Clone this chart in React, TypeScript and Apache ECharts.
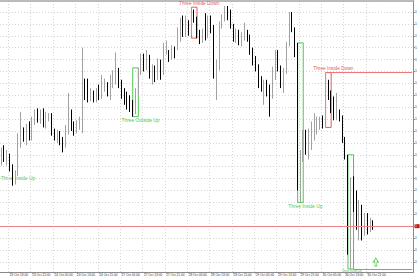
import React, { useEffect, useRef } from 'react';
import * as echarts from 'echarts';

// ---- data ----
const days = ['23 Oct', '24 Oct', '27 Oct', '28 Oct', '29 Oct', '30 Oct', '31 Oct'];
const firstHour = 10;
const slotCount = 148;

const open = [
  1.2646, 1.2652, 1.2647, 1.2649, 1.2639, 1.2630, 1.2636, 1.2658, 1.2668, 1.2664,
  1.2672, 1.2664, 1.2678, 1.2682, 1.2679, 1.2683, 1.2676, 1.2681, 1.2683, 1.2668,
  1.2665, 1.2667, 1.2662, 1.2658, 1.2669, 1.2684, 1.2673, 1.2671, 1.2674, 1.2672,
  1.2711, 1.2699, 1.2698, 1.2700, 1.2697, 1.2701, 1.2699, 1.2706, 1.2708, 1.2702,
  1.2709, 1.2713, 1.2720, 1.2709, 1.2700, 1.2698, 1.2699, 1.2693, 1.2686, 1.2703,
  1.2720, 1.2730, 1.2725, 1.2731, 1.2719, 1.2721, 1.2716, 1.2726, 1.2720, 1.2740,
  1.2733, 1.2733, 1.2736, 1.2741, 1.2748, 1.2756, 1.2751, 1.2758, 1.2752, 1.2770,
  1.2763, 1.2750, 1.2746, 1.2753, 1.2750, 1.2762, 1.2756, 1.2723, 1.2725, 1.2759,
  1.2765, 1.2772, 1.2768, 1.2758, 1.2748, 1.2752, 1.2745, 1.2749, 1.2752, 1.2748,
  1.2736, 1.2728, 1.2723, 1.2713, 1.2707, 1.2709, 1.2706, 1.2699, 1.2717, 1.2734,
  1.2721, 1.2713, 1.2720, 1.2742, 1.2767, 1.2755, 1.2734, 1.2639, 1.2647, 1.2662,
  1.2660, 1.2664, 1.2669, 1.2673, 1.2675, 1.2678, 1.2674, 1.2707, 1.2700, 1.2688,
  1.2683, 1.2684, 1.2681, 1.2662, 1.2648, 1.2570, 1.2629, 1.2616, 1.2599, 1.2604,
  1.2591, 1.2595, 1.2588, 1.2591,
];
const close = [
  1.2652, 1.2647, 1.2649, 1.2639, 1.2630, 1.2633, 1.2658, 1.2668, 1.2664, 1.2672,
  1.2664, 1.2678, 1.2682, 1.2679, 1.2683, 1.2676, 1.2681, 1.2683, 1.2668, 1.2665,
  1.2667, 1.2662, 1.2658, 1.2671, 1.2681, 1.2673, 1.2671, 1.2674, 1.2676, 1.2711,
  1.2699, 1.2698, 1.2700, 1.2697, 1.2701, 1.2699, 1.2706, 1.2708, 1.2702, 1.2709,
  1.2713, 1.2720, 1.2709, 1.2700, 1.2698, 1.2693, 1.2691, 1.2686, 1.2703, 1.2720,
  1.2730, 1.2725, 1.2733, 1.2719, 1.2721, 1.2714, 1.2726, 1.2720, 1.2740, 1.2742,
  1.2731, 1.2738, 1.2735, 1.2748, 1.2756, 1.2751, 1.2758, 1.2752, 1.2772, 1.2763,
  1.2750, 1.2746, 1.2753, 1.2750, 1.2762, 1.2755, 1.2723, 1.2725, 1.2759, 1.2765,
  1.2772, 1.2768, 1.2758, 1.2748, 1.2752, 1.2745, 1.2750, 1.2752, 1.2748, 1.2736,
  1.2728, 1.2723, 1.2713, 1.2707, 1.2709, 1.2702, 1.2699, 1.2720, 1.2734, 1.2723,
  1.2714, 1.2717, 1.2742, 1.2767, 1.2755, 1.2734, 1.2637, 1.2647, 1.2662, 1.2660,
  1.2664, 1.2669, 1.2673, 1.2675, 1.2678, 1.2674, 1.2707, 1.2700, 1.2688, 1.2683,
  1.2684, 1.2681, 1.2662, 1.2648, 1.2570, 1.2629, 1.2616, 1.2599, 1.2604, 1.2591,
  1.2595, 1.2588, 1.2591, 1.2590,
];
const high = [
  1.2656, 1.2658, 1.2654, 1.2651, 1.2642, 1.2637, 1.2668, 1.2686, 1.2673, 1.2676,
  1.2678, 1.2682, 1.2688, 1.2689, 1.2688, 1.2689, 1.2686, 1.2685, 1.2685, 1.2672,
  1.2671, 1.2670, 1.2665, 1.2675, 1.2702, 1.2688, 1.2678, 1.2679, 1.2682, 1.2740,
  1.2714, 1.2714, 1.2706, 1.2704, 1.2706, 1.2709, 1.2717, 1.2714, 1.2711, 1.2717,
  1.2721, 1.2736, 1.2723, 1.2713, 1.2706, 1.2703, 1.2700, 1.2696, 1.2706, 1.2723,
  1.2735, 1.2735, 1.2738, 1.2734, 1.2726, 1.2725, 1.2731, 1.2730, 1.2744, 1.2746,
  1.2738, 1.2742, 1.2741, 1.2757, 1.2765, 1.2767, 1.2767, 1.2763, 1.2774, 1.2772,
  1.2766, 1.2755, 1.2756, 1.2769, 1.2767, 1.2767, 1.2759, 1.2730, 1.2762, 1.2768,
  1.2775, 1.2775, 1.2772, 1.2760, 1.2756, 1.2755, 1.2753, 1.2761, 1.2755, 1.2751,
  1.2740, 1.2733, 1.2726, 1.2716, 1.2713, 1.2713, 1.2709, 1.2724, 1.2738, 1.2738,
  1.2725, 1.2723, 1.2745, 1.2770, 1.2770, 1.2757, 1.2744, 1.2654, 1.2671, 1.2671,
  1.2672, 1.2678, 1.2685, 1.2682, 1.2682, 1.2683, 1.2719, 1.2713, 1.2704, 1.2699,
  1.2702, 1.2688, 1.2683, 1.2665, 1.2650, 1.2631, 1.2632, 1.2620, 1.2612, 1.2608,
  1.2601, 1.2601, 1.2597, 1.2595,
];
const low = [
  1.2641, 1.2644, 1.2641, 1.2636, 1.2624, 1.2625, 1.2632, 1.2656, 1.2661, 1.2658,
  1.2662, 1.2662, 1.2675, 1.2677, 1.2676, 1.2673, 1.2672, 1.2678, 1.2666, 1.2662,
  1.2660, 1.2658, 1.2652, 1.2656, 1.2667, 1.2670, 1.2666, 1.2668, 1.2671, 1.2668,
  1.2696, 1.2694, 1.2695, 1.2694, 1.2694, 1.2696, 1.2697, 1.2703, 1.2699, 1.2696,
  1.2706, 1.2709, 1.2706, 1.2697, 1.2692, 1.2688, 1.2686, 1.2682, 1.2684, 1.2700,
  1.2717, 1.2720, 1.2721, 1.2714, 1.2709, 1.2711, 1.2713, 1.2713, 1.2717, 1.2734,
  1.2728, 1.2730, 1.2731, 1.2738, 1.2745, 1.2749, 1.2749, 1.2750, 1.2751, 1.2761,
  1.2748, 1.2743, 1.2744, 1.2746, 1.2748, 1.2752, 1.2714, 1.2696, 1.2721, 1.2756,
  1.2762, 1.2763, 1.2756, 1.2745, 1.2744, 1.2742, 1.2741, 1.2746, 1.2745, 1.2734,
  1.2725, 1.2720, 1.2706, 1.2703, 1.2692, 1.2699, 1.2682, 1.2697, 1.2713, 1.2720,
  1.2706, 1.2702, 1.2718, 1.2741, 1.2753, 1.2732, 1.2620, 1.2610, 1.2644, 1.2650,
  1.2646, 1.2654, 1.2662, 1.2667, 1.2671, 1.2672, 1.2673, 1.2696, 1.2685, 1.2679,
  1.2679, 1.2678, 1.2660, 1.2646, 1.2566, 1.2554, 1.2602, 1.2587, 1.2578, 1.2578,
  1.2582, 1.2583, 1.2585, 1.2587,
];

const patternNames = ['Three Outside Up', 'Three Inside Down', 'Three Inside Up', 'Three Inside Down', 'Three Inside Up'];
const patternStart = [47, 68, 106, 116, 124];
const patternEnd = [49, 70, 108, 118, 126];
const patternBull = [true, false, true, false, true];
const patternExtended = [false, false, false, true, true];
const offscreenPatternName = 'Three Inside Up';
const signalBar = 134;

const yMin = 1.25515;
const yMax = 1.27792;
const yStep = 0.001;

// ---- styles ----
const GREEN = '#4fc84f';
const RED = '#e25c5c';
const FONT = 'Liberation Sans, Arial, sans-serif';

function buildCategories(): string[] {
  const out: string[] = [];
  let d = 0;
  let h = firstHour;
  for (let i = 0; i < slotCount; i++) {
    out.push(`${days[d]} ${String(h).padStart(2, '0')}:00`);
    h++;
    if (h === 24) { h = 0; d++; }
  }
  return out;
}

function buildOption() {
  const categories = buildCategories();
  const candles = open.map((o, i) => [o, close[i], low[i], high[i]]);
  const lastIndex = open.length - 1;
  const lastClose = close[lastIndex];
  const labelEvery = (i: number) => i <= lastIndex && i % 8 === 3;
  const hiOf = (k: number) => Math.max(...high.slice(patternStart[k], patternEnd[k] + 1));
  const loOf = (k: number) => Math.min(...low.slice(patternStart[k], patternEnd[k] + 1));

  const areas = patternNames.map((name, k) => {
    const bull = patternBull[k];
    const color = bull ? GREEN : RED;
    const small = k === patternNames.length - 1;
    return [
      {
        name,
        coord: [categories[patternStart[k]], hiOf(k)],
        itemStyle: { color: 'rgba(0,0,0,0)', borderColor: color, borderWidth: 1 },
        label: {
          show: true,
          position: bull ? 'bottom' : 'top',
          distance: small ? 0 : 1,
          offset: [small ? 1 : 5, 0],
          color,
          fontSize: small ? 2.8 : 4.8,
          fontFamily: FONT,
        },
      },
      { coord: [categories[patternEnd[k]], loOf(k)] },
    ];
  });

  const extLines = patternNames
    .map((_, k) => k)
    .filter((k) => patternExtended[k])
    .map((k) => {
      const bull = patternBull[k];
      const v = bull ? loOf(k) : hiOf(k);
      return [
        { coord: [categories[patternEnd[k]], v], lineStyle: { color: bull ? GREEN : '#ee7878', width: 1, type: 'solid' }, label: { show: false } },
        { coord: [categories[slotCount - 1], v] },
      ];
    });

  const lastPattern = patternNames.length - 1;

  return {
    animation: false,
    backgroundColor: '#ffffff',
    textStyle: { fontFamily: FONT },
    grid: { left: 0, right: 5, top: 1, bottom: 8 },
    xAxis: [
      {
        type: 'category',
        data: categories,
        boundaryGap: true,
        axisLine: { show: true, lineStyle: { color: '#8a8a8a', width: 1 } },
        axisTick: { show: true, interval: labelEvery, alignWithLabel: true, length: 1.5, lineStyle: { color: '#8a8a8a' } },
        axisLabel: { interval: labelEvery, align: 'left', fontSize: 3.2, color: '#333', margin: 1.5, fontFamily: FONT },
        splitLine: { show: true, interval: labelEvery, lineStyle: { color: '#d6d6d6', type: [1, 2], width: 1 } },
      },
      {
        type: 'category',
        data: categories,
        position: 'top',
        axisLine: { show: true, lineStyle: { color: '#a6a6a6', width: 1.5 } },
        axisTick: { show: false },
        axisLabel: { show: false },
        splitLine: { show: false },
      },
    ],
    yAxis: {
      type: 'value',
      position: 'right',
      min: yMin,
      max: yMax,
      minInterval: yStep,
      maxInterval: yStep,
      splitNumber: 23,
      axisLine: { show: true, lineStyle: { color: '#8a8a8a', width: 1 } },
      axisTick: { show: true, length: 1.5, lineStyle: { color: '#8a8a8a' } },
      axisLabel: {
        fontSize: 3.4,
        color: '#333',
        margin: 1.5,
        fontFamily: FONT,
        showMinLabel: false,
        showMaxLabel: false,
        formatter: (v: number) => v.toFixed(4),
        width: 3.5,
        overflow: 'truncate',
        ellipsis: '',
      },
      splitLine: { show: true, lineStyle: { color: '#d6d6d6', type: [1, 2], width: 1 } },
    },
    graphic: [
      {
        type: 'text',
        x: 1,
        y: 178,
        silent: true,
        style: { text: offscreenPatternName, fill: GREEN, fontSize: 4.8, fontFamily: FONT, align: 'left', verticalAlign: 'middle' },
      },
    ],
    series: [
      {
        type: 'candlestick',
        xAxisIndex: 0,
        data: candles,
        barWidth: 1,
        itemStyle: { color: '#c2c2c2', color0: '#000000', borderColor: '#a2a2a2', borderColor0: '#000000', borderWidth: 1 },
        markArea: { silent: true, data: areas },
        markLine: {
          silent: true,
          precision: 5,
          symbol: ['none', 'none'],
          data: [
            {
              yAxis: lastClose,
              lineStyle: { color: '#ef8282', width: 1, type: 'solid' },
              label: {
                show: true,
                position: 'end',
                distance: 1,
                formatter: lastClose.toFixed(4),
                backgroundColor: '#c81414',
                color: '#ffffff',
                fontSize: 3.4,
                padding: [0.5, 0.5],
                width: 4,
                overflow: 'truncate',
                ellipsis: '',
              },
            },
            ...extLines,
          ],
        },
        markPoint: {
          silent: true,
          data: [
            {
              coord: [categories[signalBar], loOf(lastPattern)],
              symbol: 'path://M4,0L8,4.5L5.5,4.5L5.5,9L2.5,9L2.5,4.5L0,4.5Z',
              symbolSize: [5, 8],
              symbolOffset: [0, -7],
              itemStyle: { color: '#ffffff', borderColor: GREEN, borderWidth: 0.8 },
              label: { show: false },
            },
          ],
        },
      },
    ],
  };
}

export default function App() {
  const ref = useRef<HTMLDivElement>(null);
  useEffect(() => {
    if (!ref.current) return;
    const chart = echarts.init(ref.current, undefined, { renderer: 'svg' });
    chart.setOption(buildOption() as any);
    return () => chart.dispose();
  }, []);
  return (
    <div
      ref={ref}
      style={{ position: 'fixed', left: 0, top: 0, width: 420, height: 280, background: '#fff' }}
    />
  );
}
